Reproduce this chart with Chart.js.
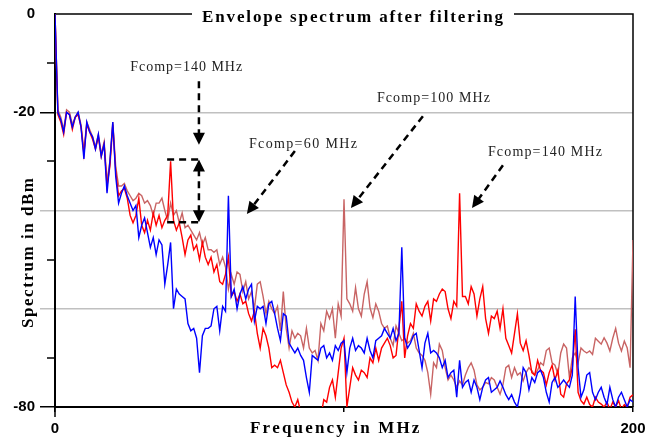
<!DOCTYPE html>
<html>
<head>
<meta charset="utf-8">
<script src="https://cdn.jsdelivr.net/npm/chart.js@4.4.1/dist/chart.umd.min.js"></script>
<style>
html,body{margin:0;padding:0;background:#fff}
#wrap{width:659px;height:439px}
</style>
</head>
<body>
<div id="wrap"><canvas id="spec" width="659" height="439"></canvas></div>
<script>
// ===== data (dBm, one sample per MHz, 0..200 MHz) =====
const FREQ = Array.from({length:201},(_,i)=>i);
const Y_LABELS = [0,-20,-80];
const X_LABELS = [0,200];
const MINOR_Y = [-10,-30,-50,-70];

const BLUE = [
  0,-20,-21.5,-24,-20,-20.5,-23,-21,-20,-23,
  -29.5,-22,-24,-25,-27.5,-24.5,-29,-26.5,-36.5,-30,
  -22,-33,-38.5,-36.5,-35,-37,-38.5,-40,-39,-45.5,
  -43,-41.5,-44.5,-47.5,-45.5,-49,-46,-47,-55,-51,
  -46.5,-60,-56,-57,-57.5,-58,-63,-64.5,-64,-66,
  -73,-65.5,-64,-64,-63.5,-60,-59.5,-64.5,-59.5,-60.5,
  -37,-57.5,-56,-60,-57,-55.5,-58,-56,-55,-62.5,
  -59.5,-60,-59.5,-63,-59,-58.5,-61,-64,-66.5,-61,
  -61.5,-67,-68,-69,-68,-69.5,-70.5,-74,-77,-69.5,
  -70,-70.5,-68,-67.5,-70,-69,-70.5,-67.5,-68.5,-67,
  -66.5,-73,-68,-66,-68.5,-67.5,-68,-69,-66,-68.5,
  -70,-66.5,-66,-65.5,-64,-65,-66,-64,-66.5,-65,
  -47.5,-66,-68,-67,-65.5,-65,-68.5,-72,-67,-65,
  -69,-68.5,-69,-70,-72,-70.5,-74,-73,-72.5,-78,
  -70.5,-76,-75,-74.5,-77,-74.5,-76,-78.5,-76,-74.5,
  -74,-77,-76.5,-76,-74.7,-76,-77.5,-78.5,-77.5,-79,
  -80,-77,-72,-73,-76.5,-74,-75,-73,-72.5,-74,
  -77,-79,-75,-74,-76,-75.3,-74.5,-75.3,-76,-73.5,
  -57.5,-72,-78,-76.5,-73.5,-73,-77,-78.5,-77,-76,
  -78,-79.5,-76,-78.5,-80,-78,-77,-78.5,-80,-78.5,
  -79
];

const RED = [
  0,-20.5,-22,-24.5,-20,-20.5,-23.5,-21,-20.5,-23,
  -28.5,-22.5,-24,-25.5,-27.5,-25,-29,-26.5,-35,-31,
  -22.5,-32,-37,-36,-35.5,-37.5,-41,-42.5,-41,-37.5,
  -43,-44.5,-42,-44,-40.5,-43,-41,-43.5,-42,-41,
  -30,-42,-44,-42.5,-45.5,-49,-46,-45,-48,-47,
  -50,-46.5,-49.5,-51,-49.5,-52.5,-51,-54.5,-55,-53,
  -49.5,-57.5,-56.5,-58.5,-57,-59,-58.5,-61,-62.5,-60.5,
  -65,-68,-64,-65.5,-68,-72,-71.5,-72,-70.5,-73,
  -75.5,-77,-79,-80,-78.5,-81,-82,-80.5,-83,-81,
  -82,-80.5,-82,-78.5,-79,-76,-74.5,-78,-73,-68,
  -66,-80,-76,-72,-73.5,-74.5,-72.5,-73,-74,-70,
  -71,-68,-70.5,-68,-67,-66,-67.5,-70,-69.5,-64,
  -58.5,-70,-65.5,-63,-64,-59,-60.5,-61.5,-59.5,-58.5,
  -62.5,-58,-58.5,-57,-56,-56.5,-60,-62,-58.5,-59.5,
  -36.5,-57.5,-57.5,-59,-55.5,-57,-61.5,-58,-55.5,-62,
  -65,-61.5,-62,-60.5,-64,-60,-66,-67.5,-69,-65,
  -61,-67,-68.5,-66.5,-69.5,-73,-73.5,-70.5,-72.5,-73,
  -75.5,-73,-71.5,-74.5,-72.5,-77.4,-78,-75.3,-74.5,-72,
  -64.2,-77,-78.7,-79.4,-78,-79.5,-80,-78,-79,-79.4,
  -80,-79,-80.5,-79,-80,-78.7,-80.5,-79.5,-80,-78,
  -77.5
];

const ROSY = [
  0,-19.5,-21,-23.5,-19.5,-20,-22.5,-21,-20,-22.5,
  -28,-22,-23.5,-25,-27,-24.5,-28.5,-26,-34,-30,
  -22,-31,-35,-35,-34.5,-36,-37,-38,-37.5,-36.5,
  -37,-38.5,-38,-39,-41,-38.5,-38.5,-37.5,-40,-42,
  -38.5,-41,-40,-42.5,-40.5,-43.5,-43,-44,-45,-46,
  -44.5,-47,-45.5,-48,-48,-48.5,-48,-51,-49.5,-51.5,
  -56,-53,-55,-52.5,-53,-56.5,-54.5,-58,-56.5,-60,
  -55,-54.5,-57.5,-61,-58.5,-60,-61,-59.5,-64.5,-56.5,
  -64,-68,-64.5,-66,-65,-65.5,-68,-64,-68,-69,
  -68.5,-70.5,-63,-64.5,-60.5,-62,-60,-66,-59,-61.5,
  -37.7,-58,-59,-60.5,-55.7,-60,-61.5,-57,-54.5,-59.8,
  -61.8,-59,-60.5,-63,-64,-63.5,-66,-67.5,-63.5,-65,
  -66.5,-66,-67,-66.5,-65,-68,-69,-69.5,-70.5,-73,
  -77.4,-71,-72,-67.2,-68.5,-72,-74.5,-73.5,-74.5,-76,
  -74.7,-75.5,-73.5,-72,-71,-72.5,-75.5,-76.5,-76,-75,
  -75.3,-74,-74.5,-76,-77.4,-75.5,-72,-71.5,-74,-72,
  -73.5,-73,-74.7,-73,-72,-72.6,-73.5,-72.5,-71,-71.5,
  -68.5,-68,-71,-71.5,-73.3,-69,-67.2,-68,-74,-70,
  -69,-71,-68,-68.6,-69,-68.6,-69.3,-66,-66.6,-67.2,
  -65.9,-67,-68.6,-66,-64,-67,-68.6,-66.6,-68,-72,
  -46
];

// ===== annotations (data coordinates) =====
const NOTES = [
  {text:'Fcomp=140 MHz', x:26.0, y:-11.7, w:112},
  {text:'Fcomp=60 MHz',  x:67.1, y:-27.3, w:108},
  {text:'Fcomp=100 MHz', x:111.4, y:-18.0, w:113},
  {text:'Fcomp=140 MHz', x:149.8, y:-28.9, w:114}
];
const ARROWS = [
  {from:[49.8,-13.7], to:[49.8,-26.6], both:false},
  {from:[49.8,-42.4], to:[49.8,-29.6], both:true},
  {from:[83.0,-27.9], to:[66.4,-40.7], both:false},
  {from:[127.3,-20.8], to:[102.4,-39.5], both:false},
  {from:[155.0,-30.8], to:[144.3,-39.5], both:false}
];
const BRACKETS = [
  {x1:38.8, x2:51.2, y:-29.6},
  {x1:38.8, x2:51.2, y:-42.4}
];

const toPts = arr => arr.map((v,i)=>({x:FREQ[i], y:v}));

function spacedText(ctx, s, x, y, w){
  const m = ctx.measureText(s).width;
  const sp = (w-m)/(s.length-1);
  let cx = x;
  for(const ch of s){ ctx.fillText(ch,cx,y); cx += ctx.measureText(ch).width + sp; }
}

function head(ctx, x1,y1,x2,y2){
  const a=Math.atan2(y2-y1,x2-x1), L=12, W=6;
  ctx.beginPath();
  ctx.moveTo(x2,y2);
  ctx.lineTo(x2-L*Math.cos(a)+W*Math.sin(a), y2-L*Math.sin(a)-W*Math.cos(a));
  ctx.lineTo(x2-L*Math.cos(a)-W*Math.sin(a), y2-L*Math.sin(a)+W*Math.cos(a));
  ctx.closePath(); ctx.fill();
}

const decor = {
  id:'decor',
  beforeDatasetsDraw(chart){
    const {ctx, chartArea:a, scales:{y}} = chart;
    ctx.save();
    ctx.strokeStyle='#000'; ctx.lineWidth=1.5;
    ctx.beginPath(); ctx.moveTo(a.left,a.top); ctx.lineTo(a.right,a.top); ctx.lineTo(a.right,a.bottom); ctx.stroke();
    MINOR_Y.forEach(v=>{
      const py=Math.round(y.getPixelForValue(v));
      ctx.beginPath(); ctx.moveTo(a.left-8,py); ctx.lineTo(a.left,py); ctx.stroke();
    });
    ctx.beginPath(); ctx.moveTo(a.left,a.bottom); ctx.lineTo(a.left,a.bottom+10); ctx.stroke();
    ctx.restore();
  },
  afterDraw(chart){
    const {ctx, chartArea:a, scales:{x,y}} = chart;
    const X=v=>x.getPixelForValue(v), Y=v=>y.getPixelForValue(v);
    ctx.save();
    // title over top border
    ctx.fillStyle='#fff'; ctx.fillRect(192,2,322,22);
    ctx.fillStyle='#000'; ctx.textAlign='left'; ctx.textBaseline='alphabetic';
    ctx.font='bold 17px "Liberation Serif", "Times New Roman", serif';
    spacedText(ctx,'Envelope spectrum after filtering',202,22,301);
    spacedText(ctx,'Frequency in MHz',250,433,169);
    ctx.save(); ctx.translate(33,253); ctx.rotate(-Math.PI/2);
    spacedText(ctx,'Spectrum in dBm',-75,0,150);
    ctx.restore();
    // notes
    ctx.fillStyle='#222'; ctx.font='14px "Liberation Serif", "Times New Roman", serif';
    NOTES.forEach(n=>spacedText(ctx,n.text,X(n.x),Y(n.y),n.w));
    // dashed arrows
    ctx.strokeStyle='#000'; ctx.fillStyle='#000'; ctx.lineWidth=2.5; ctx.setLineDash([7,5]);
    BRACKETS.forEach(b=>{ctx.beginPath(); ctx.moveTo(X(b.x1),Y(b.y)); ctx.lineTo(X(b.x2),Y(b.y)); ctx.stroke();});
    ARROWS.forEach(r=>{
      let x1=X(r.from[0]), y1=Y(r.from[1]), x2=X(r.to[0]), y2=Y(r.to[1]);
      const a2=Math.atan2(y2-y1,x2-x1);
      let sx=x1, sy=y1;
      if(r.both){ sx=x1+10*Math.cos(a2); sy=y1+10*Math.sin(a2); }
      ctx.setLineDash([7,5]);
      ctx.beginPath(); ctx.moveTo(sx,sy); ctx.lineTo(x2-10*Math.cos(a2), y2-10*Math.sin(a2)); ctx.stroke();
      ctx.setLineDash([]);
      head(ctx,x1,y1,x2,y2);
      if(r.both) head(ctx,x2,y2,x1,y1);
    });
    ctx.restore();
  }
};

const ds = (data,color)=>({data:toPts(data), borderColor:color, borderWidth:1.4, pointRadius:0, tension:0, fill:false});

new Chart(document.getElementById('spec'),{
  type:'line',
  data:{datasets:[ds(BLUE,'#0000ff'), ds(RED,'#ff0000'), ds(ROSY,'#c86464')]},
  options:{
    responsive:false, animation:false, devicePixelRatio:1,
    layout:{padding:{left:0,top:12,right:26,bottom:0}},
    plugins:{legend:{display:false}, tooltip:{enabled:false}},
    scales:{
      x:{type:'linear', min:0, max:200,
        afterFit:s=>{s.height=32;},
        border:{color:'#000', width:2},
        grid:{drawOnChartArea:false, tickLength:5, tickColor:'#000', lineWidth:1.5},
        ticks:{stepSize:100, padding:8, color:'#000', maxRotation:0,
          font:{family:'"Liberation Sans", Arial, sans-serif', size:15, weight:'bold'},
          callback:v=>X_LABELS.includes(v)?String(v):''}
      },
      y:{min:-80, max:0,
        afterFit:s=>{s.width=55;},
        border:{color:'#000', width:2},
        grid:{tickLength:15, lineWidth:1.5,
          color:c=>[-20,-40,-60].includes(c.tick.value)?'#c0c0c0':'rgba(0,0,0,0)',
          tickColor:c=>{const v=c.tick.value; return (v===-20||v===-80)?'#000':([-40,-60].includes(v)?'#c0c0c0':'rgba(0,0,0,0)');}},
        ticks:{stepSize:10, padding:5, color:'#000',
          font:{family:'"Liberation Sans", Arial, sans-serif', size:15, weight:'bold'},
          callback:v=>Y_LABELS.includes(v)?String(v):''}
      }
    }
  },
  plugins:[decor]
});
</script>
</body>
</html>
